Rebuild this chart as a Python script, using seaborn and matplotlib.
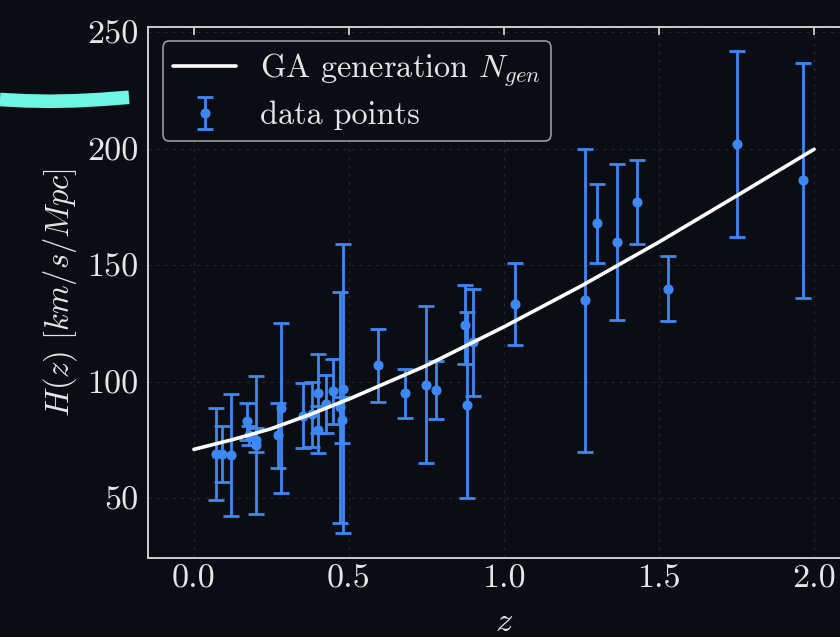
import numpy as np
import pandas as pd
import matplotlib
matplotlib.use("Agg")
import matplotlib.pyplot as plt
import seaborn as sns
from matplotlib.lines import Line2D

# ---- data ----
z_obs = [0.07, 0.09, 0.12, 0.17, 0.179, 0.199, 0.20, 0.27, 0.28, 0.352, 0.38, 0.40,
         0.4004, 0.4247, 0.4497, 0.47, 0.4783, 0.48, 0.593, 0.68, 0.75, 0.781, 0.875,
         0.88, 0.90, 1.037, 1.26, 1.30, 1.363, 1.43, 1.53, 1.75, 1.965]
H_obs = [69.0, 69.0, 68.6, 83.0, 77.0, 75.0, 72.9, 77.0, 88.8, 85.5, 86.0, 95.0,
         79.5, 90.4, 96.0, 89.0, 83.6, 97.0, 107.0, 95.0, 98.8, 96.5, 124.5,
         90.0, 117.0, 133.5, 135.0, 168.0, 160.0, 177.0, 140.0, 202.0, 186.5]
H_err = [19.6, 12.0, 26.2, 8.0, 4.0, 5.0, 29.6, 14.0, 36.6, 14.0, 14.0, 17.0,
         10.0, 12.5, 14.0, 49.6, 10.0, 62.0, 15.5, 10.5, 33.6, 12.4, 17.0,
         40.0, 23.0, 17.5, 65.0, 17.0, 33.6, 18.0, 14.0, 40.0, 50.4]

z_fit = [0.0, 0.125, 0.25, 0.375, 0.5, 0.75, 1.0, 1.25, 1.5, 1.75, 2.0]
H_fit = [71.0, 75.2, 79.9, 86.0, 92.6, 107.0, 123.6, 141.2, 160.0, 179.8, 199.8]

x_ticks = [0.0, 0.5, 1.0, 1.5, 2.0]
y_ticks = [50, 100, 150, 200, 250]

# decorative cyan stroke (figure pixel coords, top-left origin)
deco_x = [0, 25, 50, 75, 100, 129]
deco_y = [99.5, 100.8, 101.3, 100.8, 99.5, 97.3]

BG = "#0a0d14"
FG = "#e6e6e6"
SPINE = "#cfcfcf"
BLUE = "#3d88f2"

sns.set_theme(style="dark")
plt.rcParams.update({
    "font.family": "serif",
    "font.serif": ["cmr10", "DejaVu Serif"],
    "mathtext.fontset": "cm",
    "axes.formatter.use_mathtext": True,
    "axes.unicode_minus": False,
})

W, Hpx = 840, 637
fig = plt.figure(figsize=(W / 100, Hpx / 100), dpi=100, facecolor=BG)
ax = fig.add_axes([148 / W, (Hpx - 557.5) / Hpx, (860.6 - 148) / W, (557.5 - 26.7) / Hpx])
ax.set_facecolor(BG)

fit_df = pd.DataFrame({"z": z_fit, "H": H_fit})
sns.lineplot(data=fit_df, x="z", y="H", ax=ax, color="white", lw=2.6,
             label=r"GA generation $N_{gen}$", zorder=4)

ax.errorbar(z_obs, H_obs, yerr=H_err, fmt="o", color=BLUE, ms=6.3,
            elinewidth=2.0, capsize=5.8, capthick=2.0, label="data points", zorder=3)

ax.set_xlim(-0.148, 2.15)
ax.set_ylim(24.6, 252.4)
ax.set_xticks(x_ticks)
ax.set_yticks(y_ticks)
ax.set_xticklabels([f"{t:.1f}" for t in x_ticks])
ax.set_yticklabels([str(t) for t in y_ticks])

ax.grid(True, color="#23262d", linestyle=(0, (2.5, 4)), linewidth=0.9)
for s in ax.spines.values():
    s.set_color(SPINE)
    s.set_linewidth(1.4)
ax.tick_params(direction="in", length=6, width=1.3, colors=SPINE, labelcolor=FG,
               labelsize=24.5, top=True, right=True)
ax.tick_params(axis="x", pad=5)
ax.tick_params(axis="y", pad=7)

ax.set_xlabel(r"$z$", color=FG, fontsize=25, labelpad=9)
ax.set_ylabel(r"$H(z)\ [km/s/Mpc]$", color=FG, fontsize=23.5, labelpad=6)

leg = ax.legend(loc="upper left", bbox_to_anchor=(0, 1), borderaxespad=0.45,
                fontsize=23.3, frameon=True, facecolor=BG, edgecolor="#9a9a9a",
                framealpha=1, labelcolor=FG, handlelength=1.94, borderpad=0.33,
                handletextpad=0.73, labelspacing=0.35)
leg.get_frame().set_linewidth(1.2)

# decorative stroke in figure pixel coordinates
fx = np.array(deco_x) / W
fy = 1 - np.array(deco_y) / Hpx
fig.add_artist(Line2D(fx, fy, transform=fig.transFigure, color="#6ff5e4",
                      lw=9.8, solid_capstyle="butt"))

fig.savefig("out.png", dpi=100, facecolor=BG)
